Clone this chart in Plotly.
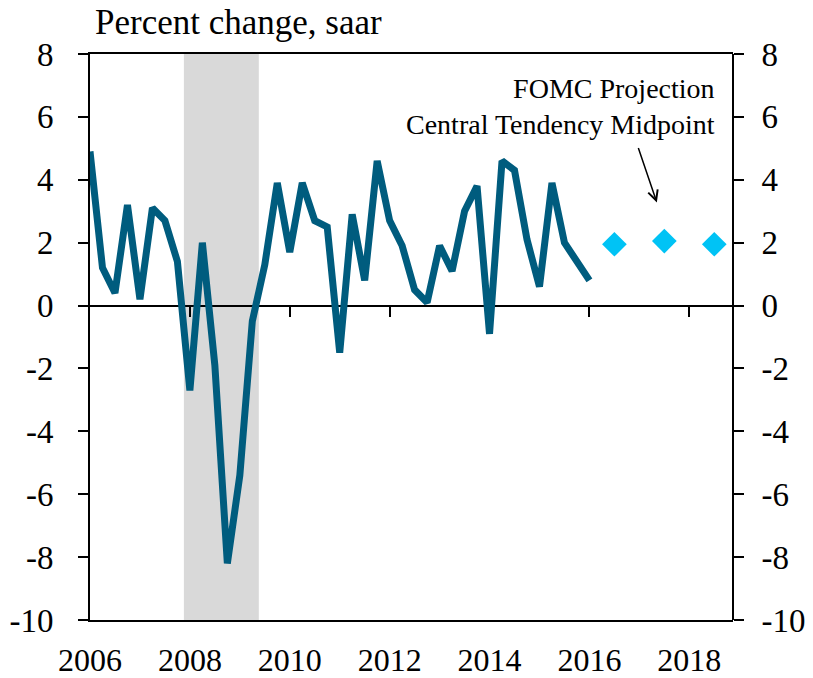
import plotly.graph_objects as go

# Quarterly real GDP growth, percent change saar (2006Q1 .. 2016Q1)
quarters = [2006 + 0.25 * i for i in range(41)]
gdp_growth = [4.9, 1.2, 0.4, 3.2, 0.2, 3.1, 2.7, 1.4,
              -2.7, 2.0, -1.9, -8.2, -5.4, -0.5, 1.3, 3.9,
              1.7, 3.9, 2.7, 2.5, -1.5, 2.9, 0.8, 4.6,
              2.7, 1.9, 0.5, 0.1, 1.9, 1.1, 3.0, 3.8,
              -0.9, 4.6, 4.3, 2.1, 0.6, 3.9, 2.0, 1.4,
              0.8]

# FOMC projection, central tendency midpoint
proj_years = [2016.5, 2017.5, 2018.5]
proj_values = [1.95, 2.05, 1.95]

# Recession (Dec 2007 - Jun 2009)
recession = [2007.88, 2009.38]

year_ticks = [2006, 2008, 2010, 2012, 2014, 2016, 2018]
zero_ticks = [2008, 2010, 2012, 2014, 2016, 2018]
y_ticks = [-10, -8, -6, -4, -2, 0, 2, 4, 6, 8]
y_tick_labels = ["-10", "-8", "-6", "-4", "-2", "0", "2", "4", "6", "8"]
x_range = [2006, 2018.875]
y_range = [-10, 8]

FONT = "Liberation Serif"
LINE_COLOR = "#005C7E"
DIAMOND_COLOR = "#00C3F5"

fig = go.Figure()

fig.add_trace(go.Scatter(
    x=quarters, y=gdp_growth, mode="lines",
    line=dict(color=LINE_COLOR, width=7),
    hoverinfo="skip", showlegend=False,
))

fig.add_trace(go.Scatter(
    x=proj_years, y=proj_values, mode="markers",
    marker=dict(symbol="diamond", size=19, color=DIAMOND_COLOR),
    xaxis="x2", yaxis="y2",
    hoverinfo="skip", showlegend=False,
))

fig.add_shape(type="rect", xref="x", yref="paper",
              x0=recession[0], x1=recession[1], y0=0, y1=1,
              fillcolor="#D9D9D9", line=dict(width=0), layer="below")

axis_font = dict(family=FONT, size=33, color="black")
x_font = dict(family=FONT, size=32, color="black")

# page body has an 8px margin, so the figure is sized/offset to compensate
fig.update_layout(
    width=805, height=670,
    margin=dict(l=82, r=80, t=46, b=58),
    paper_bgcolor="white", plot_bgcolor="white",
    showlegend=False,
    xaxis=dict(range=x_range, tickvals=year_ticks, ticks="",
               showline=True, linecolor="black", linewidth=2, mirror=True,
               showgrid=False, zeroline=False, tickfont=x_font,
               ticklabelstandoff=11, automargin=False),
    xaxis2=dict(range=x_range, overlaying="x", anchor="free",
                position=(0 - y_range[0]) / (y_range[1] - y_range[0]),
                tickvals=zero_ticks, ticks="outside", ticklen=10, tickwidth=2,
                tickcolor="black", showticklabels=False,
                showline=True, linecolor="black", linewidth=2,
                showgrid=False, zeroline=False, layer="below traces",
                automargin=False),
    yaxis=dict(range=y_range, tickvals=y_ticks, ticktext=y_tick_labels,
               ticks="outside", ticklen=10,
               tickwidth=2, tickcolor="black", showline=True,
               linecolor="black", linewidth=2, showgrid=False,
               zeroline=False, tickfont=axis_font, ticklabelstandoff=18,
               automargin=False),
    yaxis2=dict(range=y_range, tickvals=y_ticks, ticktext=y_tick_labels,
                overlaying="y", side="right",
                anchor="free", position=1,
                ticks="outside", ticklen=10, tickwidth=2, tickcolor="black",
                showline=True, linecolor="black", linewidth=2,
                showgrid=False, zeroline=False, tickfont=axis_font,
                ticklabelstandoff=11, automargin=False),
)

fig.add_annotation(
    text="Percent change, saar", xref="paper", yref="paper",
    x=0, y=1, xanchor="left", yanchor="middle", xshift=3, yshift=32,
    showarrow=False, font=dict(family=FONT, size=35, color="black"),
)

fig.add_annotation(
    text="FOMC Projection<br>Central Tendency Midpoint",
    xref="x", yref="y", x=2018.55, y=6.33, xanchor="right", yanchor="middle",
    align="right", showarrow=False,
    font=dict(family=FONT, size=28, color="black"),
)

fig.add_annotation(
    text="", xref="x", yref="y", x=2017.35, y=3.28, ax=-19, ay=-56,
    showarrow=True, arrowhead=5, arrowsize=1.3, arrowwidth=1.5,
    arrowcolor="black",
)

fig.write_html("out.html")
